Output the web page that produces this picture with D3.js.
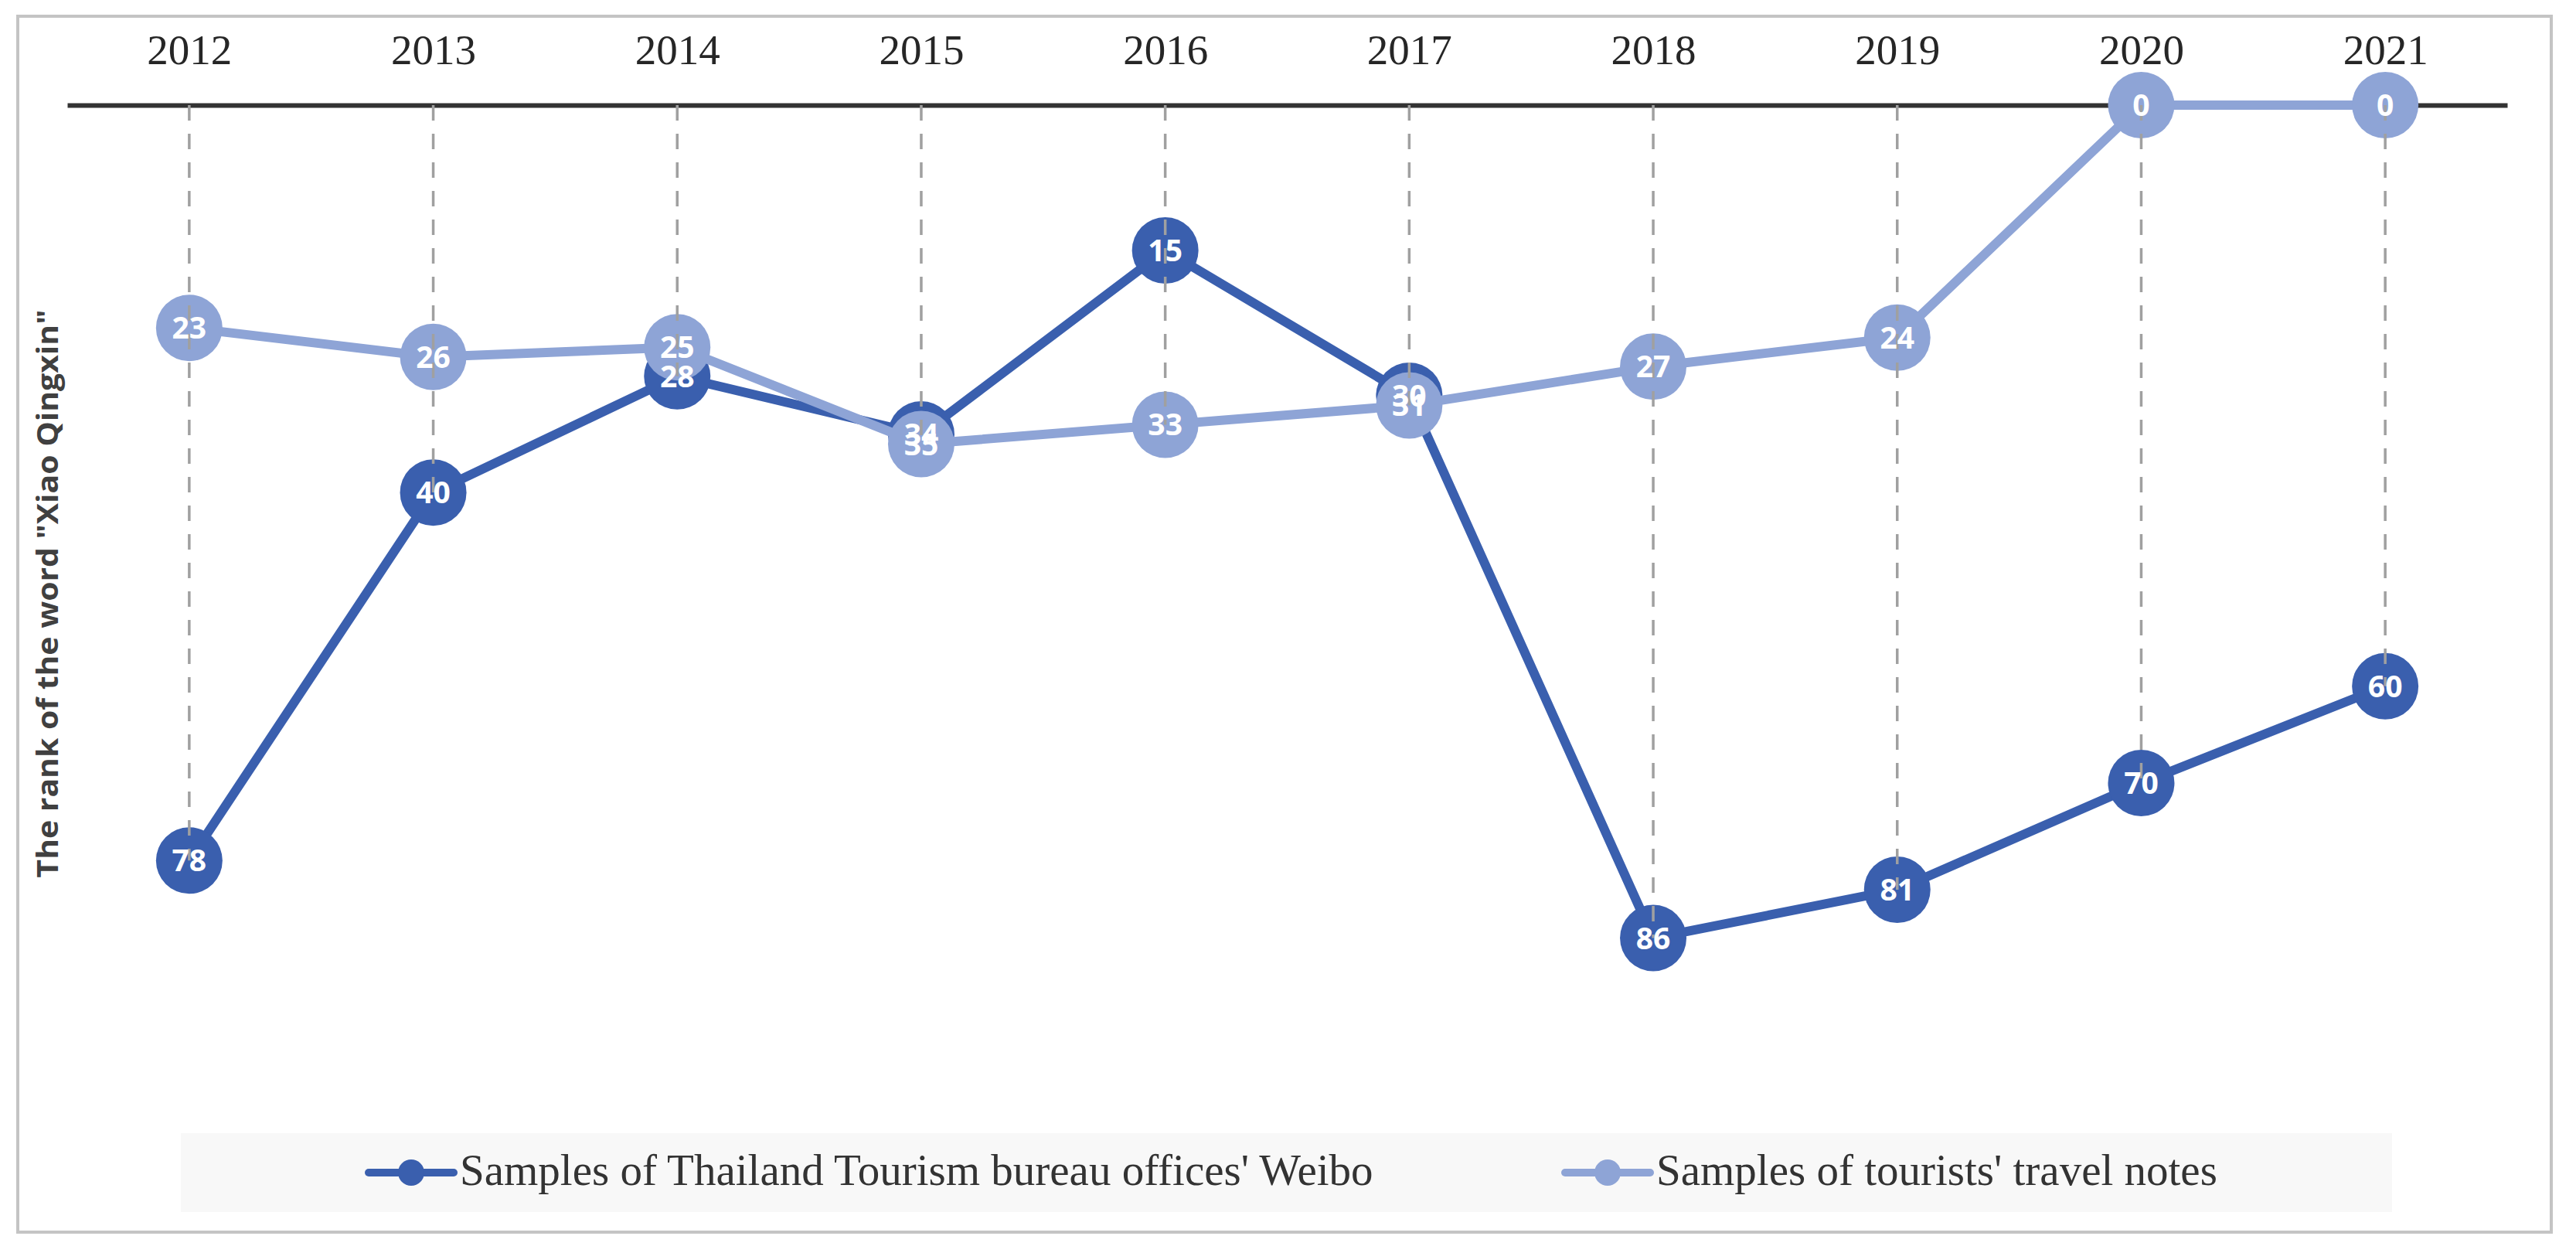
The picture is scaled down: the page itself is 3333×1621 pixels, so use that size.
<!DOCTYPE html>
<html>
<head>
<meta charset="utf-8">
<script src="https://cdn.jsdelivr.net/npm/d3@7"></script>
<style>
  body { margin: 0; background: #fff; }
</style>
</head>
<body>
<div id="canvas"></div>
<script>
const years = ["2012", "2013", "2014", "2015", "2016", "2017", "2018", "2019", "2020", "2021"];
const weiboRank = [78, 40, 28, 34, 15, 30, 86, 81, 70, 60];
const notesRank = [23, 26, 25, 35, 33, 31, 27, 24, 0, 0];
const seriesNames = ["Samples of Thailand Tourism bureau offices' Weibo", "Samples of tourists' travel notes"];
const rankDomain = [0, 100];
const yTitle = 'The rank of the word "Xiao Qingxin"';

const width = 3333;
const height = 1621;
const colors = ["#3a5fae", "#8ea4d6"];

const svg = d3.select("#canvas").append("svg")
  .attr("width", width)
  .attr("height", height);

// chart frame
svg.append("rect")
  .attr("x", 23).attr("y", 21)
  .attr("width", 3278).attr("height", 1573)
  .attr("fill", "#fff")
  .attr("stroke", "#c4c4c4")
  .attr("stroke-width", 4);

const x = d3.scalePoint()
  .domain(years)
  .range([87, 3244])
  .padding(0.5);

// rank axis is reversed: 0 sits on the top axis
const y = d3.scaleLinear()
  .domain(rankDomain)
  .range([136, 1389]);

const series = [weiboRank, notesRank];

// top category axis
const xAxis = svg.append("g")
  .attr("transform", `translate(0,${y(0)})`)
  .call(d3.axisTop(x).tickSize(0).tickSizeOuter(0).tickPadding(53));
xAxis.select(".domain")
  .attr("stroke", "#333")
  .attr("stroke-width", 6);
xAxis.selectAll("text")
  .attr("fill", "#262626")
  .style("font-family", "'Liberation Serif', 'Times New Roman', serif")
  .style("font-size", "55px");

// y axis title
svg.append("text")
  .attr("transform", `translate(75,768) rotate(-90)`)
  .attr("text-anchor", "middle")
  .attr("fill", "#404040")
  .style("font-family", "'Open Sans', sans-serif")
  .style("font-weight", "bold")
  .style("font-size", "37px")
  .attr("textLength", 735)
  .attr("lengthAdjust", "spacingAndGlyphs")
  .text(yTitle);

const line = d3.line()
  .x((d, i) => x(years[i]))
  .y((d) => y(d));

series.forEach((vals, s) => {
  svg.append("path")
    .datum(vals)
    .attr("fill", "none")
    .attr("stroke", colors[s])
    .attr("stroke-width", 12)
    .attr("stroke-linejoin", "round")
    .attr("d", line);

  svg.append("g")
    .selectAll("circle")
    .data(vals)
    .enter()
    .append("circle")
    .attr("cx", (d, i) => x(years[i]))
    .attr("cy", (d) => y(d))
    .attr("r", 43)
    .attr("fill", colors[s]);
});

// drop lines from the axis to the lowest point of each year
svg.append("g")
  .selectAll("line")
  .data(years)
  .enter()
  .append("line")
  .attr("x1", (d) => x(d))
  .attr("x2", (d) => x(d))
  .attr("y1", y(0))
  .attr("y2", (d, i) => y(Math.max(weiboRank[i], notesRank[i])))
  .attr("stroke", "#a0a0a0")
  .attr("stroke-width", 3.5)
  .attr("stroke-dasharray", "20,17");

// value labels
series.forEach((vals) => {
  svg.append("g")
    .selectAll("text")
    .data(vals)
    .enter()
    .append("text")
    .attr("x", (d, i) => x(years[i]))
    .attr("y", (d) => y(d) + 14)
    .attr("text-anchor", "middle")
    .attr("fill", "#fff")
    .style("font-family", "'Open Sans', sans-serif")
    .style("font-weight", "bold")
    .style("font-size", "39px")
    .text((d) => d);
});

// legend
const legend = svg.append("g");
legend.append("rect")
  .attr("x", 234).attr("y", 1466)
  .attr("width", 2861).attr("height", 102)
  .attr("fill", "#f8f8f8");

const legendX = [477, 2025];
seriesNames.forEach((name, s) => {
  const lg = legend.append("g").attr("transform", `translate(${legendX[s]},1517)`);
  lg.append("line")
    .attr("x1", 0).attr("x2", 110)
    .attr("stroke", colors[s])
    .attr("stroke-width", 10)
    .attr("stroke-linecap", "round");
  lg.append("circle")
    .attr("cx", 55).attr("r", 17)
    .attr("fill", colors[s]);
  lg.append("text")
    .attr("x", 118)
    .attr("y", 16)
    .attr("fill", "#333")
    .style("font-family", "'Liberation Serif', 'Times New Roman', serif")
    .style("font-size", "57px")
    .text(name);
});
</script>
</body>
</html>
